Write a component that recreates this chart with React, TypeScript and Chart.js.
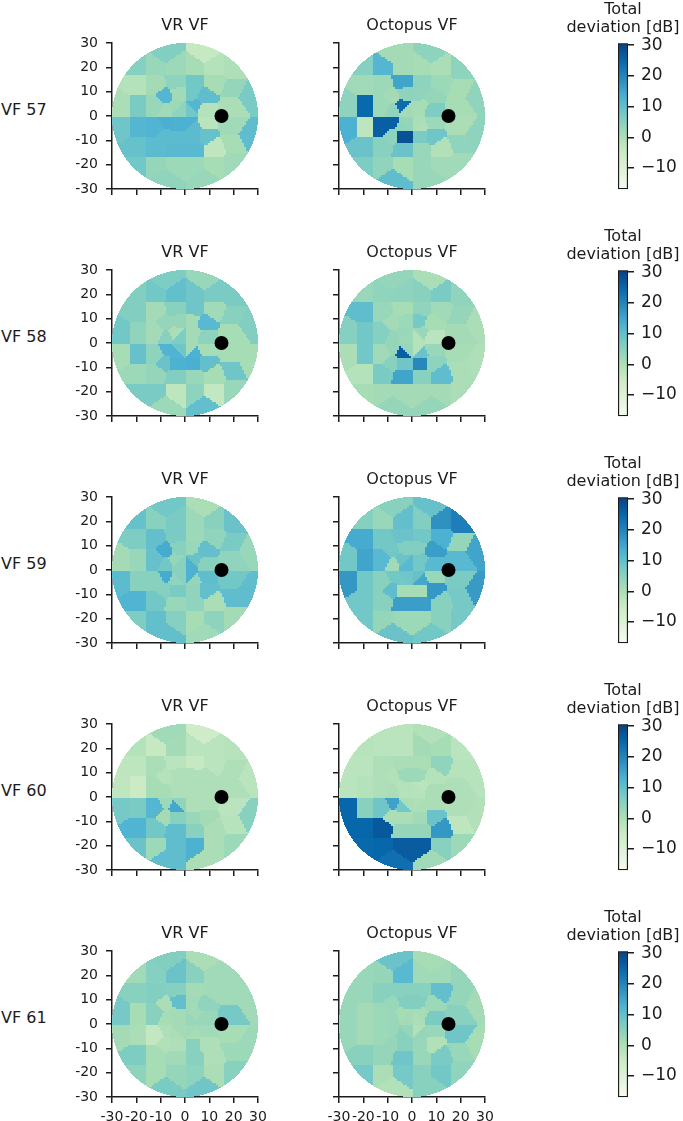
import React, { useEffect, useRef } from "react";
import { Chart, registerables } from "chart.js";

Chart.register(...registerables);

// Test locations of the visual-field grid (degrees), listed row by row from top to bottom.
const SEED_X = [
  -8, 8,
  -20, -12, -4, 4, 12, 20,
  -20, -12, -4, 4, 12, 20,
  -8, -3, 3, 8, 26,
  -26, -20, -12, -4, 4, 20,
  -8, -2, 2, 8,
  -8, -2, 2, 8,
  -26, -20, -12, -4, 4, 20,
  -8, -4, 4, 8, 26,
  -20, -12, -4, 4, 12, 20,
  -20, -12, -4, 4, 12, 20,
  -8, 8,
];
const SEED_Y = [
  26, 26,
  20, 20, 20, 20, 20, 20,
  13, 13, 14, 14, 14, 11,
  8, 9, 9, 8, 8,
  4, 4, 4, 4, 4, 4,
  2, 2, 2, 2,
  -2, -2, -2, -2,
  -4, -4, -4, -4, -4, -4,
  -8, -8, -8, -8, -8,
  -13, -13, -14, -14, -14, -11,
  -20, -20, -20, -20, -20, -20,
  -26, -26,
];

const VR_57 = [
  6, -4,
  5.5, 3, 2.5, 1, -1, 0,
  -1, 1.5, 4.5, 8, 1, 3.5,
  12, 2, 8, 10.5, 7,
  0.5, 7, 3, 2.5, 12, 0.5,
  2, 4.5, 8, -1,
  13.5, 13, 13, -2,
  8.5, 12, 12.5, 13, 11, 2,
  11, 11, 11, 9.5, 10.5,
  9.5, 11, 11.5, 11.5, -3, 1,
  8, 3.5, 2.5, 2.5, 1, 2,
  4, 3,
];
const OCTOPUS_57 = [
  1.5, 4.5,
  5.5, 12, 1.5, 1, 0.5, 4.5,
  2, 2.5, 15, 4.5, 2.5, 1,
  1.5, 4.5, 4, 3.5, 4,
  4.5, 24.5, 2.5, 24, 1, 1,
  4, 1.5, 1, 6.5,
  26, 3.5, 0.5, 2.5,
  13, -2.5, 26, 4, 0, 0.5,
  4.5, 28, 7, 8.5, 4.5,
  9, 5, 9, 3, -0.5, 4,
  6.5, 4, 1, 3, 2, 2,
  10.5, 3,
];
const VR_58 = [
  6.5, 3,
  6, 8, 10, 8.5, 7, 7,
  6, 1.5, 5, 8.5, 2, 5,
  3.5, 3.5, 1.5, 11.5, 6,
  8, 4, 1.5, 0.5, 1.5, 1,
  5, 6.5, 1.5, 4.5,
  12.5, 8.5, 1.5, 1,
  1, 9.5, 4.5, 12.5, 13, 1,
  9, 13, 13.5, 10, 1,
  2.5, 3.5, 6, 3, 1, 8.5,
  7, 7, -2.5, 4.5, -3.5, 3,
  2.5, 10,
];
const OCTOPUS_58 = [
  3.5, 0.5,
  3, 4, 4.5, 5, 7, 4,
  10.5, 3, 1, 4, 2, 3.5,
  1.5, 2.5, 7.5, 1, 0.5,
  5.5, 8, 5.5, 3, 3, 1.5,
  3.5, 2.5, -1, -2,
  3.5, 3, -1, 3,
  0.5, 8, 2, 26, 9, 1,
  5, 8.5, 19.5, 4.5, 0,
  -1, 7, 15, 5, 10.5, 0.5,
  1, 1.5, 1.5, 1.5, 1.5, 0.5,
  3.5, 3.5,
];
const VR_59 = [
  8, 0.5,
  9.5, 5, 7, 2.5, 5, 9,
  6.5, 10, 7, 2.5, 4, 7,
  14, 5, 3, 10, 3,
  1.5, 3, 9.5, 3.5, 9, 4,
  8, 5, 13, 5,
  14, 5, 13, 10.5,
  11, 5, 5, 4, 3.5, 8,
  5.5, 7, 4, 10, 10.5,
  12.5, 8, 3, 4, 0.5, 10.5,
  6.5, 10, 5.5, 1, 4.5, 1.5,
  10, 2,
];
const OCTOPUS_59 = [
  5, 9.5,
  5.5, 3, 10, 6, 18, 21,
  14, 8, 9, 8, 13, 3.5,
  8, 6, 6, 16, 15,
  8, 15, 11.5, 9, 8, 11.5,
  2, 11.5, 8, 11.5,
  8, 8.5, 9.5, 3,
  17, 8, 5, 8, 14.5, 7,
  10.5, 1, 1, 17, 16.5,
  8, 5, 16, 16, 5, 7.5,
  8, 3.5, 2.5, 2.5, 5, 7.5,
  9, 8,
];
const VR_60 = [
  2, -5.5,
  -1, -4, 1.5, -2, -2, -1.5,
  -2.5, 0.5, -2, -4, -2, 0,
  -1, 0, 0, 0, -2,
  -3, -5, 1, 0, 0, 0,
  1, 0, 0, 0,
  2.5, 4, 0, 0,
  7.5, 7, 12, 14.5, 0, -2,
  1.5, 5, 3, 1.5, 5,
  12.5, 8, 10.5, 5, 0.5, -1.5,
  9, 2.5, 10.5, 13, 0.5, 2.5,
  10.5, 0.5,
];
const OCTOPUS_60 = [
  -2, -0.5,
  -1.5, -2, -2, 1.5, 1, -2,
  -2, 0, 0.5, 0.5, 4, -1.5,
  -0.5, 2.5, 2.5, -1, -1.5,
  -2, -1, 0, -1, -2, 0,
  0.5, -1, -1.5, 0.5,
  15.5, 0.5, 0, 0.5,
  25, 5, 8.5, 8, 0.5, 0,
  0.5, 0.5, 2, 9, -0.5,
  25, 27, 3.5, 3.5, 17, -2.5,
  24.5, 25, 26.5, 26.5, 5, 2.5,
  23.5, 2,
];
const VR_61 = [
  6, 0.5,
  2, 5.5, 9, 5, 2, 2,
  5, 6, 5.5, 1.5, 2, 2,
  0.5, 10, 2, 4, 2,
  7.5, 1, 5, 1.5, 2, 7.5,
  1, 1.5, 3, 3,
  0, 1.5, 2, 2,
  1.5, 0.5, -3.5, 0.5, 1, 1,
  -0.5, 0, 5, 0, 2.5,
  6.5, 1, 2, 5, 0, 2.5,
  4.5, 1, 3.5, 4.5, 0.5, 5,
  7, 8.5,
];
const OCTOPUS_61 = [
  9, 1,
  3, 3.5, 11.5, 2, 2, 3.5,
  3, 5, 5, 5, 10, 3.5,
  3, 6, 6, 2.5, 1.5,
  3, 1.5, 2.5, 1, 1, 5,
  3, 1.5, 0.5, 7,
  3, 3.5, -0.5, 3,
  3, 1.5, 2.5, 5, 3.5, 8.5,
  3.5, 5, 3, -0.5, 1,
  5, 3.5, 8.5, 3, 7, 3,
  7.5, 0.5, 7.5, 5, 8, 4,
  -0.5, 5,
];

const ROW_NAMES = ["VF 57", "VF 58", "VF 59", "VF 60", "VF 61"];
const COLUMN_TITLES = ["VR VF", "Octopus VF"];
const VALUES = [
  [VR_57, OCTOPUS_57],
  [VR_58, OCTOPUS_58],
  [VR_59, OCTOPUS_59],
  [VR_60, OCTOPUS_60],
  [VR_61, OCTOPUS_61],
];
const AXIS_TICKS = [-30, -20, -10, 0, 10, 20, 30];
const BLIND_SPOT = { x: 15, y: 0 };
const COLORBAR_TICKS = [-10, 0, 10, 20, 30];
const COLORBAR_TITLE = ["Total", "deviation [dB]"];
const V_MIN = -16.9;
const V_MAX = 30.65;
const GNBU = ["#f7fcf0", "#e0f3db", "#ccebc5", "#a8ddb5", "#7bccc4", "#4eb3d3", "#2b8cbe", "#0868ac", "#084081"];

const ROW_TOPS = [43, 270, 497, 724, 951];
const COL_LEFTS = [112, 339];
const PLOT = 146;
const INK = "#1c1c1c";
const FONT = "'DejaVu Sans'";

function hexRgb(h: string) {
  return [parseInt(h.slice(1, 3), 16), parseInt(h.slice(3, 5), 16), parseInt(h.slice(5, 7), 16)];
}
function colorFor(v: number) {
  const t = Math.max(0, Math.min(1, (v - V_MIN) / (V_MAX - V_MIN))) * (GNBU.length - 1);
  const i = Math.min(GNBU.length - 2, Math.floor(t));
  const f = t - i;
  const a = hexRgb(GNBU[i]);
  const b = hexRgb(GNBU[i + 1]);
  return `rgb(${a.map((c, k) => Math.round(c + (b[k] - c) * f)).join(",")})`;
}

// One cell per device pixel inside the r = 30 field; the owner test point is found on a 2 px lattice.
const DEG_PER_PX = 60 / PLOT;
const CELLS: { x: number; y: number; seed: number }[] = (() => {
  const out: { x: number; y: number; seed: number }[] = [];
  const owner = new Map<string, number>();
  for (let i = 0; i < PLOT; i++) {
    for (let j = 0; j < PLOT; j++) {
      const x = -30 + (i + 0.5) * DEG_PER_PX;
      const y = 30 - (j + 0.5) * DEG_PER_PX;
      if (x * x + y * y > 900) continue;
      const key = `${i >> 1},${j >> 1}`;
      let seed = owner.get(key);
      if (seed === undefined) {
        const qx = -30 + ((i >> 1) * 2 + 1) * DEG_PER_PX;
        const qy = 30 - ((j >> 1) * 2 + 1) * DEG_PER_PX;
        let bestD = Infinity;
        seed = 0;
        for (let s = 0; s < SEED_X.length; s++) {
          const d = (qx - SEED_X[s]) ** 2 + (qy - SEED_Y[s]) ** 2;
          if (d < bestD) {
            bestD = d;
            seed = s;
          }
        }
        owner.set(key, seed);
      }
      out.push({ x, y, seed });
    }
  }
  return out;
})();

function place(chart: any, canvas: HTMLCanvasElement, left: number, top: number) {
  const missing = PLOT - chart.chartArea.height;
  if (missing !== 0) chart.resize(canvas.width, canvas.height + missing);
  canvas.style.position = "absolute";
  canvas.style.left = `${left - chart.chartArea.left}px`;
  canvas.style.top = `${top - chart.chartArea.top}px`;
}

// The colour bar's title is wider than the bar: let it span the whole canvas, centred on the bar.
const wideTitle = {
  id: "wideTitle",
  afterLayout(chart: any) {
    const block = chart.titleBlock;
    const middle = (chart.chartArea.left + chart.chartArea.right) / 2;
    block.left = 0;
    block.right = 2 * middle;
    block.width = 2 * middle;
  },
};

function Panel({ row, col }: { row: number; col: number }) {
  const ref = useRef<HTMLCanvasElement>(null);
  useEffect(() => {
    const canvas = ref.current!;
    const values = VALUES[row][col];
    const palette = values.map(colorFor);
    const showX = row === ROW_TOPS.length - 1;
    const showY = col === 0;
    const axis = (fixed: (s: any) => void, show: boolean, padding: number) => ({
      type: "linear" as const,
      min: -30,
      max: 30,
      afterBuildTicks: (s: any) => {
        s.ticks = AXIS_TICKS.map((value) => ({ value }));
      },
      afterFit: fixed,
      border: { display: true, color: INK, width: 1.5 },
      grid: { drawOnChartArea: false, drawTicks: true, tickLength: 6, color: INK, lineWidth: 1.5 },
      ticks: {
        display: true,
        autoSkip: false,
        maxRotation: 0,
        padding,
        color: INK,
        font: { family: FONT, size: 14 },
        callback: (v: any) => (show ? String(v) : ""),
      },
    });
    const chart = new Chart(canvas, {
      type: "scatter",
      data: {
        datasets: [
          {
            label: "Blind spot",
            data: [BLIND_SPOT],
            pointRadius: 7,
            pointBackgroundColor: "#000000",
            pointBorderWidth: 0,
            clip: false,
          },
          {
            label: `${ROW_NAMES[row]} ${COLUMN_TITLES[col]}`,
            data: CELLS.map((c) => ({ x: c.x, y: c.y })),
            pointStyle: "rect",
            pointRadius: 0.7072,
            pointBorderWidth: 0,
            pointBackgroundColor: CELLS.map((c) => palette[c.seed]),
            clip: false,
          },
        ],
      },
      options: {
        animation: false,
        responsive: false,
        maintainAspectRatio: false,
        events: [],
        layout: { padding: { right: 20, left: 0, top: 0, bottom: 0 } },
        plugins: {
          legend: { display: false },
          tooltip: { enabled: false },
          title: {
            display: true,
            text: COLUMN_TITLES[col],
            fullSize: false,
            color: INK,
            font: { family: FONT, size: 16, weight: "normal", lineHeight: 1 },
            padding: { top: 0, bottom: 9 },
          },
        },
        scales: {
          x: axis((s) => (s.height = 32), showX, 6),
          y: axis((s) => (s.width = 50), showY, 8),
        },
      },
    } as any);
    place(chart, canvas, COL_LEFTS[col], ROW_TOPS[row]);
    return () => chart.destroy();
  }, [row, col]);
  return <canvas ref={ref} width={50 + PLOT + 20} height={25 + PLOT + 32} />;
}

function ColorBar({ row }: { row: number }) {
  const ref = useRef<HTMLCanvasElement>(null);
  useEffect(() => {
    const canvas = ref.current!;
    const chart = new Chart(canvas, {
      type: "bar",
      plugins: [wideTitle],
      data: {
        labels: ["Total deviation"],
        datasets: [
          {
            label: "Total deviation [dB]",
            data: [[V_MIN, V_MAX]],
            barPercentage: 1,
            categoryPercentage: 1,
            borderWidth: 1.5,
            borderColor: INK,
            borderSkipped: false,
            backgroundColor: (c: any) => {
              const area = c.chart.chartArea;
              if (!area) return GNBU[4];
              const g = c.chart.ctx.createLinearGradient(0, area.bottom, 0, area.top);
              GNBU.forEach((h, i) => g.addColorStop(i / (GNBU.length - 1), h));
              return g;
            },
          },
        ],
      },
      options: {
        animation: false,
        responsive: false,
        maintainAspectRatio: false,
        events: [],
        layout: { padding: { left: 55, right: 0, top: 0, bottom: 10 } },
        plugins: {
          legend: { display: false },
          tooltip: { enabled: false },
          title: {
            display: true,
            text: COLORBAR_TITLE,
            color: INK,
            font: { family: FONT, size: 16, weight: "normal", lineHeight: 1.13 },
            padding: { top: 0, bottom: 6 },
          },
        },
        scales: {
          x: { display: false },
          y: {
            position: "right",
            min: V_MIN,
            max: V_MAX,
            afterBuildTicks: (s: any) => {
              s.ticks = COLORBAR_TICKS.map((value) => ({ value }));
            },
            afterFit: (s: any) => {
              s.width = 55;
            },
            border: { display: false },
            grid: { drawOnChartArea: false, drawTicks: true, tickLength: 6, color: INK, lineWidth: 1.5 },
            ticks: {
              autoSkip: false,
              padding: 7,
              color: INK,
              font: { family: FONT, size: 17 },
              callback: (v: any) => (v < 0 ? `\u2212${Math.abs(v)}` : String(v)),
            },
          },
        },
      },
    } as any);
    place(chart, canvas, 618, ROW_TOPS[row]);
    return () => chart.destroy();
  }, [row]);
  return <canvas ref={ref} width={120} height={44 + PLOT + 10} />;
}

export default function App() {
  return (
    <div style={{ position: "absolute", left: 0, top: 0, width: 683, height: 1121, overflow: "hidden", background: "#fff" }}>
      {ROW_NAMES.map((name, row) => (
        <React.Fragment key={name}>
          <div
            style={{
              position: "absolute",
              left: 1,
              top: ROW_TOPS[row] + 58,
              font: `16px/18px ${FONT}`,
              color: INK,
              whiteSpace: "nowrap",
            }}
          >
            {name}
          </div>
          <Panel row={row} col={0} />
          <Panel row={row} col={1} />
          <ColorBar row={row} />
        </React.Fragment>
      ))}
    </div>
  );
}
